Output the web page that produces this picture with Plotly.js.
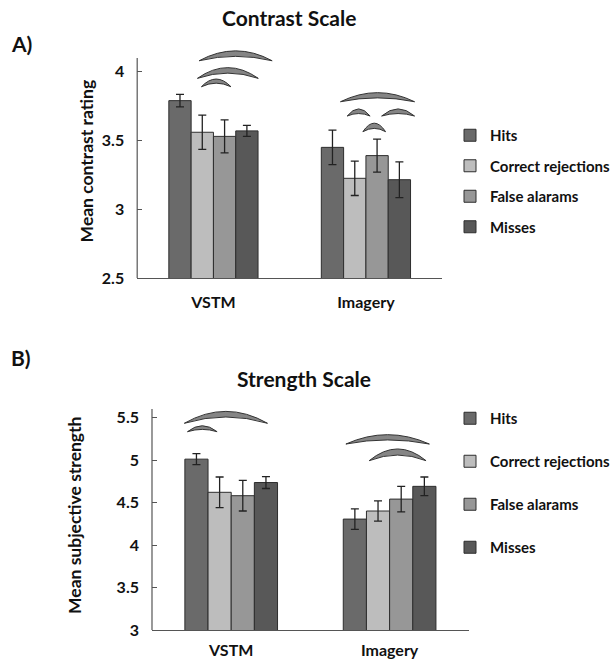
<!DOCTYPE html>
<html>
<head>
<meta charset="utf-8">
<script src="https://cdn.plot.ly/plotly-3.0.1.min.js"></script>
<style>html,body{margin:0;padding:0;background:#fff}#chart{width:615px;height:660px}</style>
</head>
<body>
<div id="chart"></div>
<script>
// ---------- data ----------
const categories = ['VSTM', 'Imagery'];
const seriesNames = ['Hits', 'Correct rejections', 'False alarams', 'Misses'];
const seriesColors = ['#6a6a6a', '#bdbdbd', '#979797', '#585858'];

// Contrast scale (panel A)
const contrastHits = [3.79, 3.45];
const contrastCR = [3.56, 3.225];
const contrastFA = [3.53, 3.39];
const contrastMisses = [3.57, 3.215];
const contrastHitsErr = [0.045, 0.125];
const contrastCRErr = [0.125, 0.125];
const contrastFAErr = [0.12, 0.12];
const contrastMissesErr = [0.04, 0.13];

// Strength scale (panel B)
const strengthHits = [5.01, 4.305];
const strengthCR = [4.62, 4.40];
const strengthFA = [4.58, 4.54];
const strengthMisses = [4.735, 4.69];
const strengthHitsErr = [0.065, 0.12];
const strengthCRErr = [0.18, 0.12];
const strengthFAErr = [0.18, 0.15];
const strengthMissesErr = [0.07, 0.11];

const contrastTicks = [2.5, 3, 3.5, 4];
const strengthTicks = [3, 3.5, 4, 4.5, 5, 5.5];

// significance arcs: category, start/end offset (category units), end level, outer/inner rise
const contrastArcCat = [0, 0, 0, 1, 1, 1, 1];
const contrastArcX0 = [-0.094, -0.105, -0.079, -0.167, -0.123, 0.103, -0.020];
const contrastArcX1 = [0.385, 0.294, 0.115, 0.319, 0.0275, 0.319, 0.129];
const contrastArcY = [4.080, 3.952, 3.891, 3.782, 3.678, 3.678, 3.564];
const contrastArcOut = [0.072, 0.078, 0.056, 0.066, 0.052, 0.052, 0.062];
const contrastArcIn = [0.032, 0.038, 0.026, 0.028, 0.018, 0.018, 0.024];

const strengthArcCat = [0, 0, 1, 1];
const strengthArcX0 = [-0.296, -0.276, -0.276, -0.129];
const strengthArcX1 = [0.229, -0.089, 0.251, 0.230];
const strengthArcY = [5.432, 5.333, 5.188, 4.992];
const strengthArcOut = [0.140, 0.070, 0.110, 0.138];
const strengthArcIn = [0.074, 0.027, 0.048, 0.066];

// ---------- layout helpers ----------
const W = 615, H = 660;
const fx = v => v / W;
const fy = v => 1 - v / H;
const FONT = 'Lato, "Open Sans", sans-serif';
const bold = (size) => ({family: FONT, size: size, color: '#111', weight: 700});

const xIdx = categories.map((c, i) => i);

function makeBars(vals, errs, xa, ya, legendId) {
  return vals.map((v, i) => ({
    type: 'bar',
    name: seriesNames[i],
    x: xIdx,
    y: v,
    xaxis: xa, yaxis: ya,
    legend: legendId,
    legendgroup: legendId + i,
    marker: {color: seriesColors[i], line: {color: '#2e2e2e', width: 1}},
    error_y: {type: 'data', array: errs[i], visible: true, color: '#222', thickness: 1.3, width: 4},
    hoverinfo: 'y'
  }));
}

const traces = [].concat(
  makeBars([contrastHits, contrastCR, contrastFA, contrastMisses],
           [contrastHitsErr, contrastCRErr, contrastFAErr, contrastMissesErr], 'x', 'y', 'legend'),
  makeBars([strengthHits, strengthCR, strengthFA, strengthMisses],
           [strengthHitsErr, strengthCRErr, strengthFAErr, strengthMissesErr], 'x2', 'y2', 'legend2')
);

function arcShapes(cat, x0, x1, y, hOut, hIn, xref, yref) {
  return cat.map((c, i) => {
    const a = c + x0[i], b = c + x1[i], m = (a + b) / 2;
    const co = y[i] + 2 * hOut[i], ci = y[i] + 2 * hIn[i];
    return {
      type: 'path', xref: xref, yref: yref, layer: 'above',
      path: `M ${a},${y[i]} Q ${m},${co} ${b},${y[i]} Q ${m},${ci} ${a},${y[i]} Z`,
      fillcolor: '#858585',
      line: {color: '#333', width: 1}
    };
  });
}

const shapes = [].concat(
  arcShapes(contrastArcCat, contrastArcX0, contrastArcX1, contrastArcY, contrastArcOut, contrastArcIn, 'x', 'y'),
  arcShapes(strengthArcCat, strengthArcX0, strengthArcX1, strengthArcY, strengthArcOut, strengthArcIn, 'x2', 'y2'),
  [
    {type: 'line', xref: 'x domain', yref: 'y', x0: 0, x1: 0, y0: 2.5, y1: 4.1, line: {color: '#555', width: 1.2}},
    {type: 'line', xref: 'x2 domain', yref: 'y2', x0: 0, x1: 0, y0: 3, y1: 5.6, line: {color: '#555', width: 1.2}}
  ]
);

const yCommon = {
  showline: false, showgrid: false, zeroline: false,
  ticks: 'inside', ticklen: 5, tickcolor: '#555', tickwidth: 1,
  tickfont: bold(16), fixedrange: true
};
const xCommon = {
  showline: true, linecolor: '#555', linewidth: 1.2, showgrid: false, zeroline: false,
  ticks: '', tickfont: bold(16), tickvals: xIdx, ticktext: categories, range: [-0.5, 1.5], fixedrange: true
};

const layout = {
  width: W, height: H,
  margin: {l: 0, r: 0, t: 0, b: 0},
  paper_bgcolor: '#fff', plot_bgcolor: '#fff',
  barmode: 'group', bargap: 0.415, bargroupgap: 0,
  showlegend: true,
  xaxis: Object.assign({}, xCommon, {domain: [fx(139), fx(448)], anchor: 'y', ticklabelstandoff: 10}),
  yaxis: Object.assign({}, yCommon, {
    domain: [fy(278), fy(278 - 1.7 * 137.5)], range: [2.5, 4.2], anchor: 'x',
    tickvals: contrastTicks, ticktext: contrastTicks.map(String), ticklabelstandoff: 12,
    title: {text: 'Mean contrast rating', font: bold(17.5), standoff: 3}
  }),
  xaxis2: Object.assign({}, xCommon, {domain: [fx(154), fx(475)], anchor: 'y2', ticklabelstandoff: 6}),
  yaxis2: Object.assign({}, yCommon, {
    domain: [fy(630), fy(630 - 2.7 * 85)], range: [3, 5.7], anchor: 'x2',
    tickvals: strengthTicks, ticktext: strengthTicks.map(String), ticklabelstandoff: 12,
    title: {text: 'Mean subjective strength', font: bold(17.5), standoff: 30}
  }),
  legend: {x: fx(456), xanchor: 'left', y: fy(119), yanchor: 'top', font: bold(15),
           tracegroupgap: 8, bgcolor: 'rgba(0,0,0,0)'},
  legend2: {x: fx(456), xanchor: 'left', y: fy(402), yanchor: 'top', font: bold(15),
            tracegroupgap: 20.5, bgcolor: 'rgba(0,0,0,0)'},
  shapes: shapes,
  annotations: [
    {text: 'Contrast Scale', xref: 'paper', yref: 'paper', x: fx(293), y: fy(18), showarrow: false, font: bold(21), xanchor: 'center', yanchor: 'middle'},
    {text: 'Strength Scale', xref: 'paper', yref: 'paper', x: fx(308), y: fy(378), showarrow: false, font: bold(21), xanchor: 'center', yanchor: 'middle'},
    {text: 'A)', xref: 'paper', yref: 'paper', x: fx(9), y: fy(43), showarrow: false, font: bold(21), xanchor: 'left', yanchor: 'middle'},
    {text: 'B)', xref: 'paper', yref: 'paper', x: fx(9), y: fy(357), showarrow: false, font: bold(21), xanchor: 'left', yanchor: 'middle'}
  ]
};

Plotly.newPlot('chart', traces, layout, {displayModeBar: false, staticPlot: true});
</script>
</body>
</html>
